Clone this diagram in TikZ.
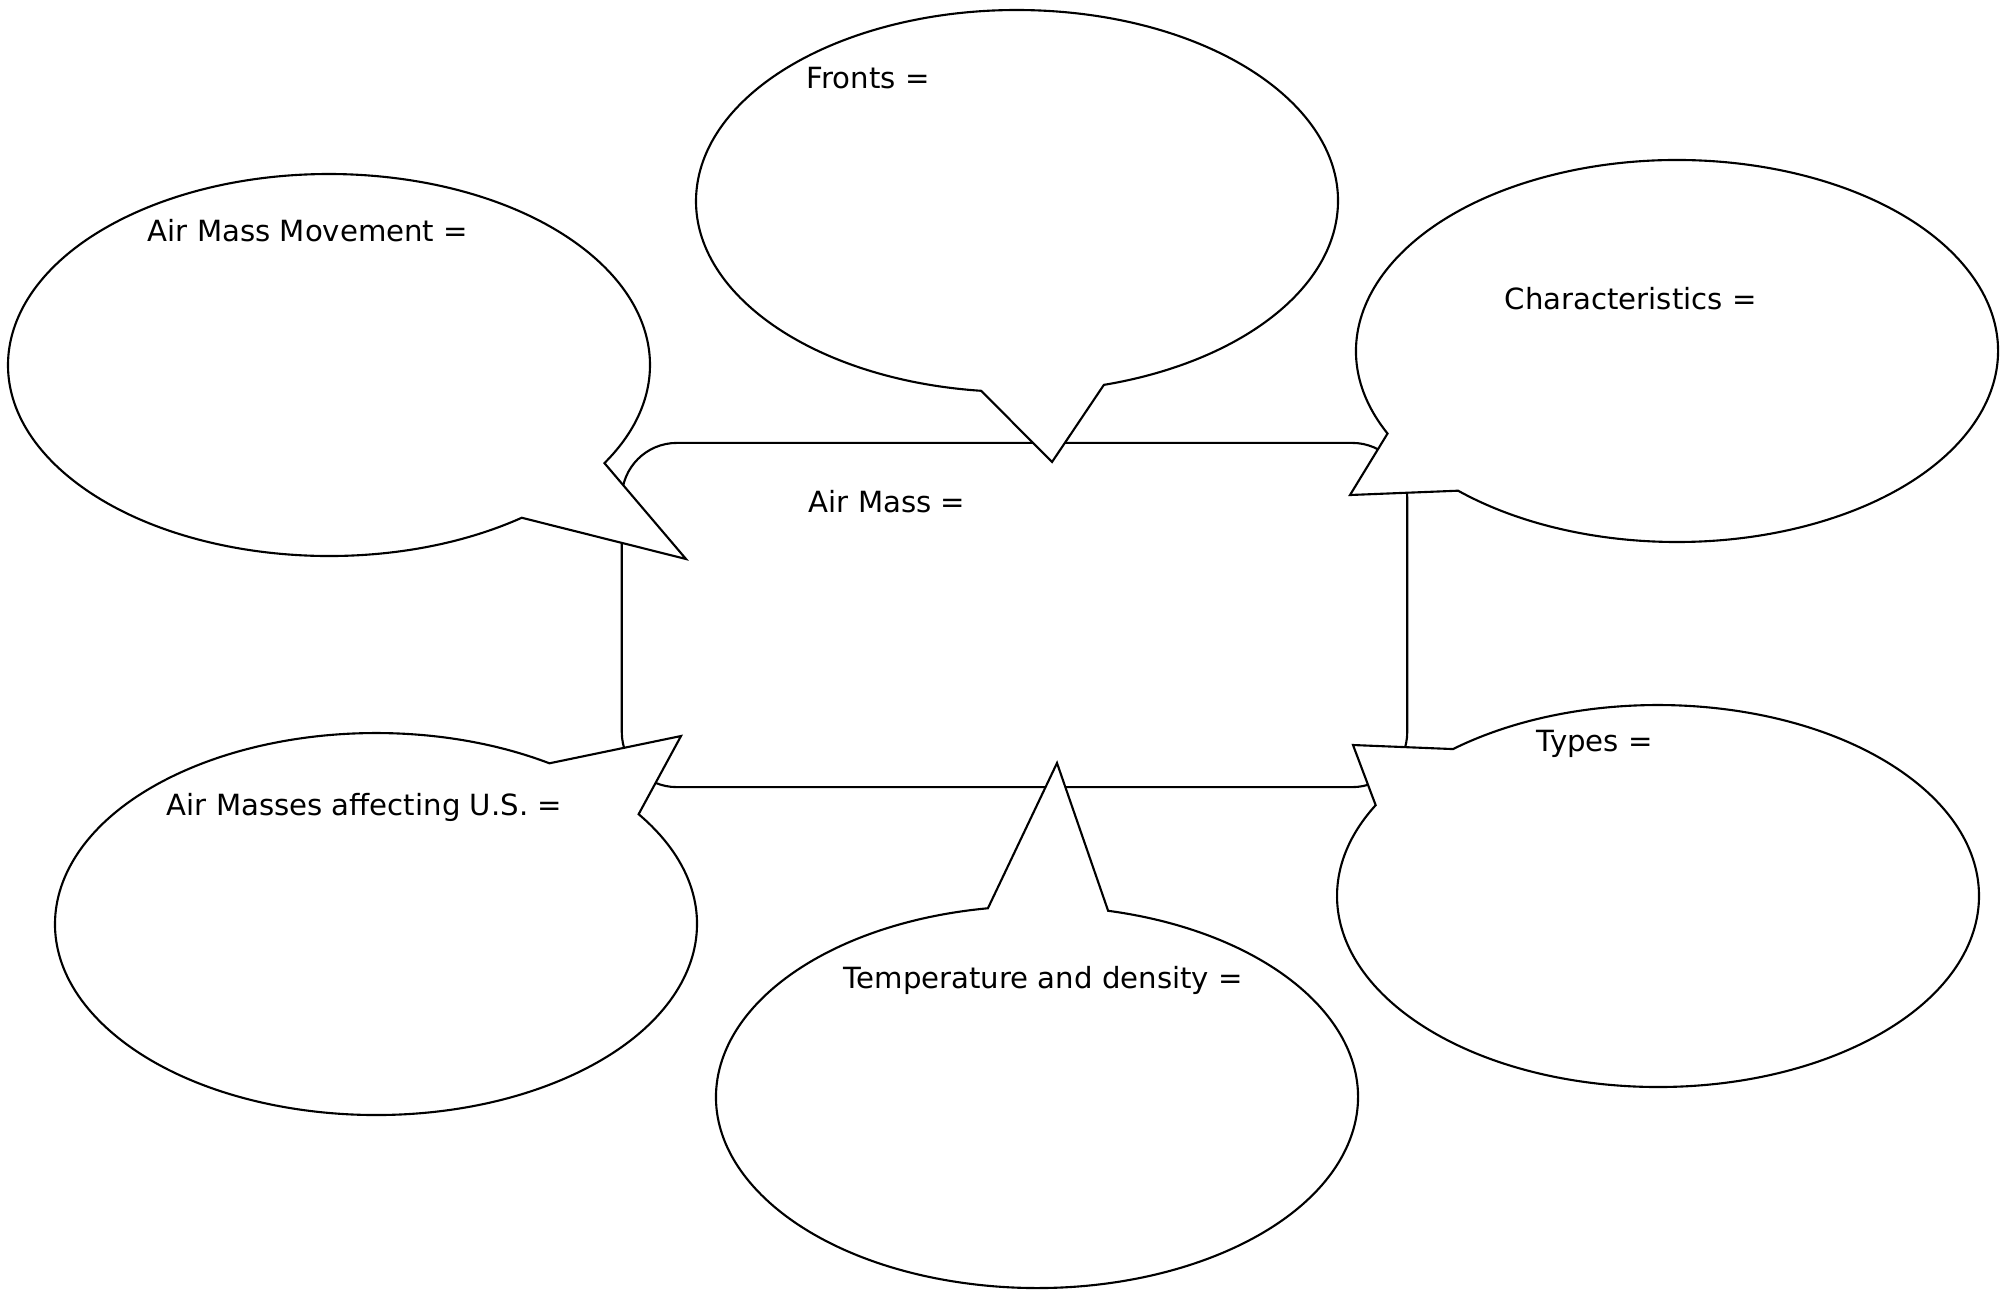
\documentclass[tikz,border=0pt]{standalone}
\usepackage{fontspec}
\setmainfont{DejaVu Sans}
\usetikzlibrary{calc}
\begin{document}
\begin{tikzpicture}
    [x=0.01cm, y=-0.01cm,
    font=\fontsize{8.3}{10}\selectfont,
    mainbox/.style={shape=rectangle,draw=black,rounded corners=0.55cm,minimum width=7.85cm,minimum height=3.44cm,line width=0.6pt},
    bubble/.style={draw=black,fill=white,line width=0.6pt,line join=miter},
    txt/.style={anchor=base west,inner sep=0pt}]

    \useasboundingbox (0,0) rectangle (2007,1290);

    \node (airmass) [mainbox] at (1014.5,615) {};

    % bubbles: ellipse arc, then the tail
    \draw [bubble] ($(329,365)+(53.1:321 and 191)$) arc [start angle=53.1, end angle=390.9, x radius=321, y radius=191] -- (686,559) -- cycle;
    \draw [bubble] ($(1017,201)+(96.4:321 and 191)$) arc [start angle=96.4, end angle=434.3, x radius=321, y radius=191] -- (1052,462) -- cycle;
    \draw [bubble] ($(1677,351)+(154.4:321 and 191)$) arc [start angle=154.4, end angle=493, x radius=321, y radius=191] -- (1350,495) -- cycle;
    \draw [bubble] ($(1658,896)+(230.3:321 and 191)$) arc [start angle=230.3, end angle=568.4, x radius=321, y radius=191] -- (1353,745) -- cycle;
    \draw [bubble] ($(376,924)+(324.9:321 and 191)$) arc [start angle=324.9, end angle=662.7, x radius=321, y radius=191] -- (681,736) -- cycle;
    \draw [bubble] ($(1037,1097)+(282.8:321 and 191)$) arc [start angle=282.8, end angle=621.2, x radius=321, y radius=191] -- (1057,763) -- cycle;

    \node (airmasstext) [txt] at (808,512) {Air Mass =};
    \node (movement) [txt] at (147,241) {Air Mass Movement =};
    \node (fronts) [txt] at (806,88) {Fronts =};
    \node (characteristics) [txt] at (1504,309) {Characteristics =};
    \node (types) [txt] at (1536,751) {Types =};
    \node (affecting) [txt] at (166,815) {Air Masses affecting U.S. =};
    \node (temperature) [txt] at (843,988) {Temperature and density =};

\end{tikzpicture}
\end{document}
